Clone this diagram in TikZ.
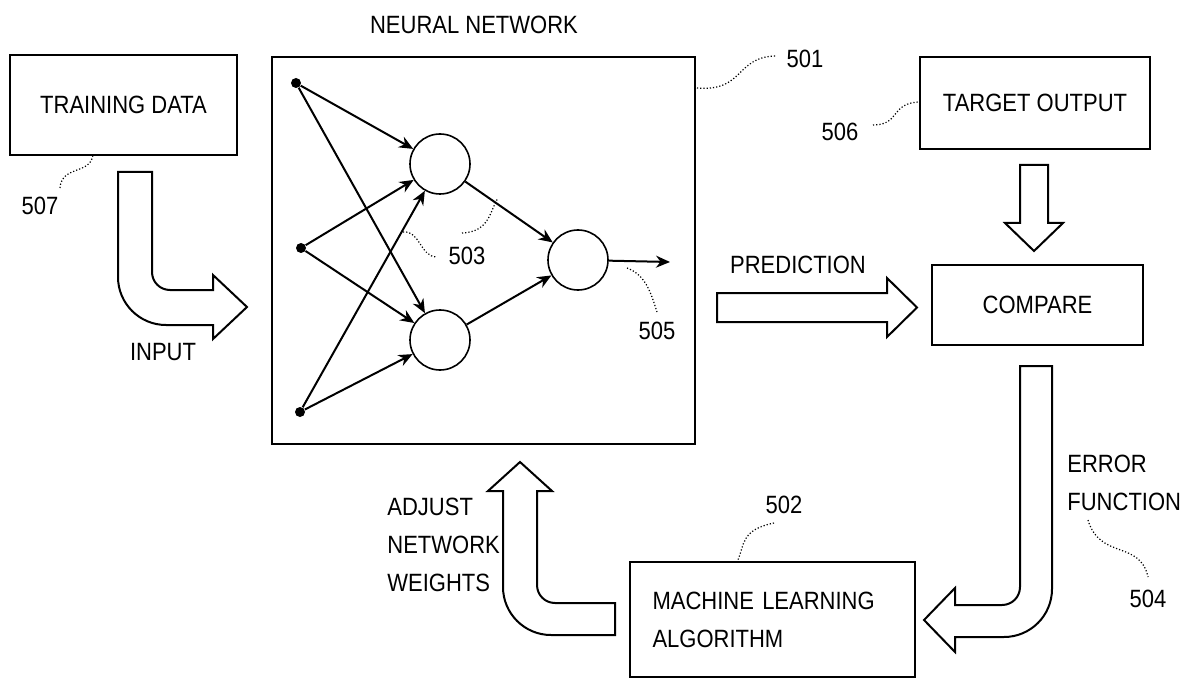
\documentclass[tikz,border=0pt]{standalone}
\usepackage{fontspec}
\setmainfont[FakeStretch=0.88]{Liberation Sans}
\usetikzlibrary{arrows.meta}

\tikzset{
  box/.style={draw, line width=1.3pt, inner sep=0pt, align=center},
  neuron/.style={circle, draw, line width=0.8pt, minimum size=30pt, inner sep=0pt},
  dot/.style={circle, fill, minimum size=5pt, inner sep=0pt},
  wire/.style={draw, line width=1pt, -{Stealth[length=7pt,width=6pt]}},
  fat/.style={draw, line width=1pt, fill=white, line join=miter},
  lead/.style={densely dotted, line width=0.6pt},
}

\begin{document}
\begin{tikzpicture}[x=0.5pt, y=-0.5pt, font=\fontsize{12.5}{19}\selectfont]
      \useasboundingbox (0,0) rectangle (1188,679);
      % blocks
      \begin{scope}[every node/.style={box}]
        \node (train) [minimum width=113.5pt, minimum height=50pt] at (123.5,105) {TRAINING DATA};
        \node (nn) [minimum width=211.5pt, minimum height=193.5pt] at (483.5,250.5) {};
        \node (target) [minimum width=115pt, minimum height=46pt] at (1035,103) {TARGET OUTPUT};
        \node (cmp) [minimum width=105.5pt, minimum height=40pt] at (1037.5,305) {COMPARE};
        \node (mla) [minimum width=142.5pt, minimum height=57.5pt, text width=120pt, align=left] at (772.5,619.5) {MACHINE LEARNING\\ALGORITHM};
      \end{scope}
      % texts
      \begin{scope}[every node/.style={inner sep=0pt}]
        \node (title) at (474,25) {NEURAL NETWORK};
        \node (input) at (163,352) {INPUT};
        \node (pred) at (798,265) {PREDICTION};
        \node (adjust) [anchor=west, align=left] at (387,545) {ADJUST\\NETWORK\\WEIGHTS};
        \node (error) [anchor=west, align=left] at (1067,483) {ERROR\\FUNCTION};
        \node (l501) at (805,59) {501};
        \node (l502) at (784,505) {502};
        \node (l503) at (467,256) {503};
        \node (l504) at (1148,599) {504};
        \node (l505) at (657,331) {505};
        \node (l506) at (840,132) {506};
        \node (l507) at (40,206) {507};
      \end{scope}
      % network
      \node (i1) [dot] at (296,83) {};
      \node (i2) [dot] at (301,248) {};
      \node (i3) [dot] at (300,412) {};
      \node (h1) [neuron] at (440,164) {};
      \node (h2) [neuron] at (440,340) {};
      \node (o) [neuron] at (578,260) {};
      \coordinate (y) at (670,262);
      \begin{scope}[every edge/.style={wire}]
        \path (i1) edge (h1);
        \path (i1) edge (h2);
        \path (i2) edge (h1);
        \path (i2) edge (h2);
        \path (i3) edge (h1);
        \path (i3) edge (h2);
        \path (h1) edge (o);
        \path (h2) edge (o);
        \path (o) edge (y);
      \end{scope}
      % hollow arrows
      \path[fat] (118,172) -- (152,172) -- (152,272) .. controls (152,282) and (160,290) .. (170,290) -- (213,290) -- (213,275) -- (247,307) -- (213,339) -- (213,325) -- (166,325) .. controls (139.5,325) and (118,303.5) .. (118,277) -- cycle;
      \path[fat] (717,293) -- (887,293) -- (887,278) -- (917,307.5) -- (887,337) -- (887,322) -- (717,322) -- cycle;
      \path[fat] (1020,165) -- (1048,165) -- (1048,223) -- (1063,223) -- (1034,251) -- (1005,223) -- (1020,223) -- cycle;
      \path[fat] (1020,366) -- (1052,366) -- (1052,589) .. controls (1052,615.5) and (1030.5,637) .. (1004,637) -- (955,637) -- (955,652) -- (924,620) -- (955,588) -- (955,605) -- (1002,605) .. controls (1012,605) and (1020,597) .. (1020,587) -- cycle;
      \path[fat] (615,603) -- (555,603) .. controls (545,603) and (537,595) .. (537,585) -- (537,491) -- (552,491) -- (520,462) -- (488,491) -- (503,491) -- (503,587) .. controls (503,613.5) and (524.5,635) .. (551,635) -- (615,635) -- cycle;
      % leaders
      \coordinate (c501) at (697,88);
      \coordinate (c506) at (918,102);
      \coordinate (c507) at (93,155);
      \coordinate (c502) at (737,562);
      \coordinate (c503a) at (403,232);
      \coordinate (c503b) at (498,198);
      \coordinate (c505) at (627,268);
      \coordinate (c504) at (1088,520);
      \draw[lead] (c501) .. controls (745,92) and (735,56) .. (777,56);
      \draw[lead] (873,125) .. controls (900,125) and (890,104) .. (c506);
      \draw[lead] (60,188) .. controls (62,165) and (90,175) .. (c507);
      \draw[lead] (c503a) .. controls (420,230) and (420,257) .. (437,257);
      \draw[lead] (462,233) .. controls (490,232) and (490,210) .. (c503b);
      \draw[lead] (c505) .. controls (645,275) and (650,290) .. (657,312);
      \draw[lead] (774,523) .. controls (740,530) and (745,545) .. (c502);
      \draw[lead] (c504) .. controls (1100,560) and (1140,540) .. (1148,577);
    \end{tikzpicture}
\end{document}
